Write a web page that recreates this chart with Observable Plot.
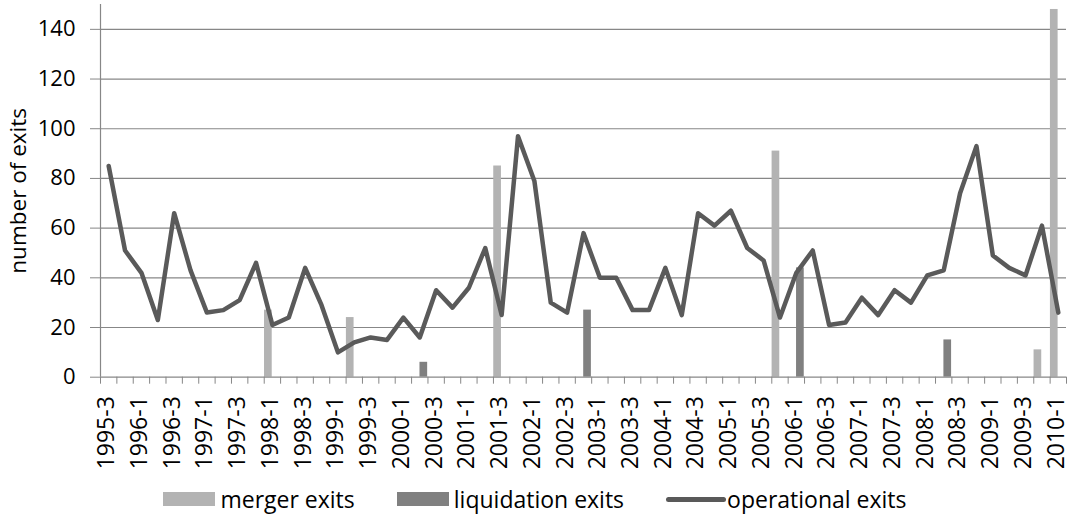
<!DOCTYPE html>
<html>
<head>
<meta charset="utf-8">
<script src="https://cdn.jsdelivr.net/npm/d3@7"></script>
<script src="https://cdn.jsdelivr.net/npm/@observablehq/plot@0.6"></script>
<style>
  html, body { margin: 0; padding: 0; background: #fff; }
  body { width: 1070px; font-family: "Open Sans", sans-serif; }
  #legend { display: flex; justify-content: center; align-items: center; height: 30px; font-size: 23px; color: #000; padding-left: 0px; }
  .item { display: flex; align-items: center; margin: 0 21px; }
  .sw { width: 52px; height: 14px; margin-right: 5px; }
  .ln { width: 60px; height: 5px; border-radius: 3px; margin-right: 1px; background: #595959; }
</style>
</head>
<body>
<div id="chart"></div>
<div id="legend"></div>
<script>
const quarters = ["1995-3","1995-4","1996-1","1996-2","1996-3","1996-4","1997-1","1997-2","1997-3","1997-4","1998-1","1998-2","1998-3","1998-4","1999-1","1999-2","1999-3","1999-4","2000-1","2000-2","2000-3","2000-4","2001-1","2001-2","2001-3","2001-4","2002-1","2002-2","2002-3","2002-4","2003-1","2003-2","2003-3","2003-4","2004-1","2004-2","2004-3","2004-4","2005-1","2005-2","2005-3","2005-4","2006-1","2006-2","2006-3","2006-4","2007-1","2007-2","2007-3","2007-4","2008-1","2008-2","2008-3","2008-4","2009-1","2009-2","2009-3","2009-4","2010-1"];
const operational = [85,51,42,23,66,43,26,27,31,46,21,24,44,29,10,14,16,15,24,16,35,28,36,52,25,97,79,30,26,58,40,40,27,27,44,25,66,61,67,52,47,24,42,51,21,22,32,25,35,30,41,43,74,93,49,44,41,61,26];
const mergerQuarters = ["1998-1","1999-2","2001-3","2005-4","2009-4","2010-1"];
const mergerValues = [27,24,85,91,11,148];
const liquidationQuarters = ["2000-2","2002-4","2006-1","2008-2"];
const liquidationValues = [6,27,44,15];
const yTicks = [0,20,40,60,80,100,120,140];
const seriesNames = ["merger exits","liquidation exits","operational exits"];

const opData = operational.map((v, i) => ({i, v}));
const mergerData = mergerQuarters.map((q, k) => ({i: quarters.indexOf(q), v: mergerValues[k]}));
const liqData = liquidationQuarters.map((q, k) => ({i: quarters.indexOf(q), v: liquidationValues[k]}));
const boundaries = d3.range(-0.5, quarters.length, 1);
const labelIdx = d3.range(0, quarters.length, 2);
const grid = "#878787";

const chart = Plot.plot({
  width: 1070,
  height: 484,
  marginLeft: 100,
  marginRight: 4,
  marginTop: 4,
  marginBottom: 107.3,
  x: {type: "linear", domain: [-0.5, quarters.length - 0.5]},
  y: {domain: [0, 150]},
  style: {fontFamily: "Open Sans", fontSize: "22px", color: "#000", background: "#fff", overflow: "visible"},
  marks: [
    Plot.ruleY(yTicks.filter(d => d > 0), {stroke: grid, strokeWidth: 1.2}),
    Plot.rectY(mergerData, {x1: d => d.i - 0.5, x2: d => d.i, y: "v", fill: "#b3b3b3", insetLeft: 0.3, insetRight: 0.2}),
    Plot.rectY(liqData, {x1: d => d.i, x2: d => d.i + 0.5, y: "v", fill: "#808080", insetLeft: 0.2, insetRight: 0.3}),
    Plot.line(opData, {x: "i", y: "v", stroke: "#5a5a5a", strokeWidth: 4.5}),
    Plot.ruleX([-0.5], {y1: 0, y2: 150, stroke: grid, strokeWidth: 1.2}),
    Plot.ruleY([0], {stroke: grid, strokeWidth: 1.2}),
    Plot.axisY({ticks: yTicks, tickSize: 10, tickPadding: 15, stroke: grid, fill: "#000", label: null, fontSize: 22}),
    Plot.axisX({ticks: boundaries, tickFormat: () => "", tickSize: 7, stroke: grid, label: null}),
    Plot.axisX({ticks: labelIdx, tickFormat: i => quarters[i], tickSize: 0, tickPadding: 19, tickRotate: -90, dx: -2, fill: "#000", label: null, fontSize: 23}),
    Plot.text(["number of exits"], {frameAnchor: "left", textAnchor: "middle", rotate: -90, dx: -82, fontSize: 22.5, fill: "#000"})
  ]
});
document.getElementById("chart").append(chart);

const legend = document.getElementById("legend");
const fills = ["#b3b3b3", "#808080", null];
seriesNames.forEach((name, k) => {
  const it = document.createElement("div");
  it.className = "item";
  const sw = document.createElement("div");
  if (fills[k]) { sw.className = "sw"; sw.style.background = fills[k]; } else { sw.className = "ln"; }
  const t = document.createElement("span");
  t.textContent = name;
  it.append(sw, t);
  legend.append(it);
});
</script>
</body>
</html>
